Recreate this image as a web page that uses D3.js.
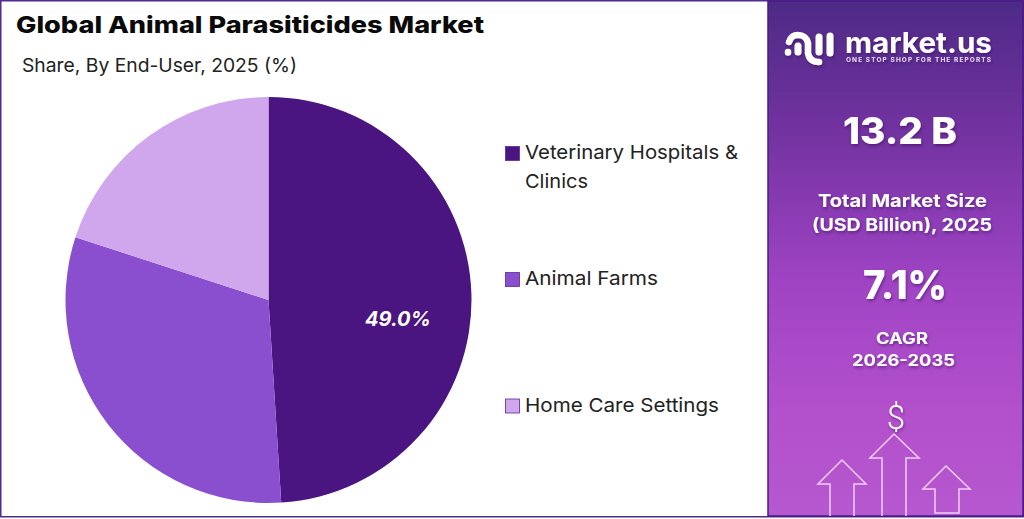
<!DOCTYPE html>
<html><head><meta charset="utf-8">
<script src="https://cdn.jsdelivr.net/npm/d3@7"></script>
<style>html,body{margin:0;padding:0;background:#fff;overflow:hidden}text{font-family:Inter,"Noto Sans",sans-serif}</style>
</head><body><div id="c"></div>
<script>
const categories=["Veterinary Hospitals & Clinics","Animal Farms","Home Care Settings"];
const legendLines=[["Veterinary Hospitals &","Clinics"],["Animal Farms"],["Home Care Settings"]];
const shares=[49,31,20];
const colors=["#4a1580","#8a4fcf","#d0a6ec"];
const shownLabels=["49.0%",null,null];
const title="Global Animal Parasiticides Market";
const subtitle="Share, By End-User, 2025 (%)";
const panelLabels=["13.2 B","Total Market Size","(USD Billion), 2025","7.1%","CAGR","2026-2035"];

const panelStyle=[[900,144,37,114,800],[902.5,207,17.5,169,700],[902,231,17.5,180,700],[905,299,39,84,800],[902,344,15.5,52,700],[903.5,366,15.5,103,700]];
const W=1024,H=519;
const svg=d3.select("#c").append("svg").attr("width",W).attr("height",H).style("display","block");
const defs=svg.append("defs");
const g=defs.append("linearGradient").attr("id","pg").attr("x1",0).attr("y1",0).attr("x2",0).attr("y2",1);
[[0,"#4d2a86"],[.25,"#7232a0"],[.55,"#a044c4"],[.8,"#b350cc"],[1,"#b658cf"]].forEach(d=>g.append("stop").attr("offset",d[0]).attr("stop-color",d[1]));
const sh=defs.append("filter").attr("id","sh").attr("x","-20%").attr("y","-20%").attr("width","140%").attr("height","150%");
sh.append("feDropShadow").attr("dx",1).attr("dy",2).attr("stdDeviation",1.6).attr("flood-color","#2a0a50").attr("flood-opacity",.45);

svg.append("rect").attr("x",.75).attr("y",.75).attr("width",W-1.5).attr("height",H-3).attr("fill","#fff").attr("stroke","#4f2a8f").attr("stroke-width",1.5);
svg.append("rect").attr("x",768).attr("y",1).attr("width",255).attr("height",515).attr("fill","url(#pg)").attr("stroke","#4a1a86").attr("stroke-width",1.5);

svg.append("text").attr("x",16).attr("y",33).attr("font-size",23.5).attr("font-weight",800).attr("fill","#0a0a0a").attr("textLength",468).attr("lengthAdjust","spacingAndGlyphs").text(title);
svg.append("text").attr("x",22).attr("y",72).attr("font-size",19).attr("fill","#222").attr("textLength",275).attr("lengthAdjust","spacingAndGlyphs").text(subtitle);

const cx=268.5,cy=300,r=203;
const pie=d3.pie().sort(null)(shares);
const arc=d3.arc().innerRadius(0).outerRadius(r);
const labelArc=d3.arc().innerRadius(0).outerRadius(r*1.276);
const pg=svg.append("g").attr("transform",`translate(${cx},${cy})`);
pg.selectAll("path").data(pie).join("path").attr("d",arc).attr("fill",(d,i)=>colors[i]);
pg.selectAll("text").data(pie.filter((d,i)=>shownLabels[i])).join("text")
 .attr("transform",d=>{const c=labelArc.centroid(d);return `translate(${c[0]},${c[1]+23})`;})
 .attr("text-anchor","middle").attr("dy","0.35em").attr("font-size",20).attr("font-weight",700).attr("font-style","italic").attr("fill","#fff")
 .text(d=>shownLabels[d.index]);

const legY=[153,279,405.5];
const legW=[[213,63],[133],[194]];
const lg=svg.append("g");
legendLines.forEach((ls,i)=>{
 lg.append("rect").attr("x",505.5).attr("y",legY[i]-6.5).attr("width",14).attr("height",14).attr("fill",colors[i]).attr("stroke","#5a2a9a").attr("stroke-width",.8);
 ls.forEach((t,j)=>lg.append("text").attr("x",525).attr("y",legY[i]+6+j*29).attr("font-size",19).attr("fill","#222").attr("textLength",legW[i][j]).attr("lengthAdjust","spacingAndGlyphs").text(t));
});

const p=svg.append("g").attr("fill","#fff").attr("text-anchor","middle").attr("filter","url(#sh)");
p.selectAll("text").data(panelLabels).join("text")
 .attr("x",(d,i)=>panelStyle[i][0]).attr("y",(d,i)=>panelStyle[i][1]).attr("font-size",(d,i)=>panelStyle[i][2])
 .attr("textLength",(d,i)=>panelStyle[i][3]).attr("lengthAdjust","spacingAndGlyphs").attr("font-weight",(d,i)=>panelStyle[i][4]).text(d=>d);

// logo
const lo=svg.append("g").attr("filter","url(#sh)");
const st=(d,w)=>lo.append("path").attr("d",d).attr("fill","none").attr("stroke","#fff").attr("stroke-width",w).attr("stroke-linecap","round");
st("M789 42 C791 36 794 35 798 35 C803 35 807 38 808 43 L808 53 C809 59 813 62 819 62",6.5);
st("M798 46 L798 52",7);
st("M788 52 L788 52.5",6.5);
st("M819 37 L819 52",7);
st("M830 36 L830 53",7);
lo.append("text").attr("x",845).attr("y",53).attr("font-size",29).attr("font-weight",700).attr("fill","#fff").attr("textLength",147).attr("lengthAdjust","spacingAndGlyphs").text("market.us");
lo.append("text").attr("x",846).attr("y",61.5).attr("font-size",6.5).attr("font-weight",700).attr("fill","#e8d8f2").attr("textLength",145).attr("lengthAdjust","spacing").text("ONE STOP SHOP FOR THE REPORTS");

// icons
const ar=svg.append("g").attr("fill","none").attr("stroke","#f0d0f4").attr("stroke-width",1.5).attr("stroke-linejoin","miter");
ar.append("path").attr("d","M830 516 V484 H818 L842 460 L866 484 H854 V516");
ar.append("path").attr("d","M882 516 V458 H870 L894 434 L919 458 H906 V516");
ar.append("path").attr("d","M935 513 V489 H923 L946 466 L970 489 H959 V513 Z");
svg.append("text").attr("x",896).attr("y",429).attr("text-anchor","middle").attr("font-size",33).attr("fill","#fff").attr("filter","url(#sh)").style("font-family","Roboto").style("font-weight",300).text("$");
</script></body></html>
